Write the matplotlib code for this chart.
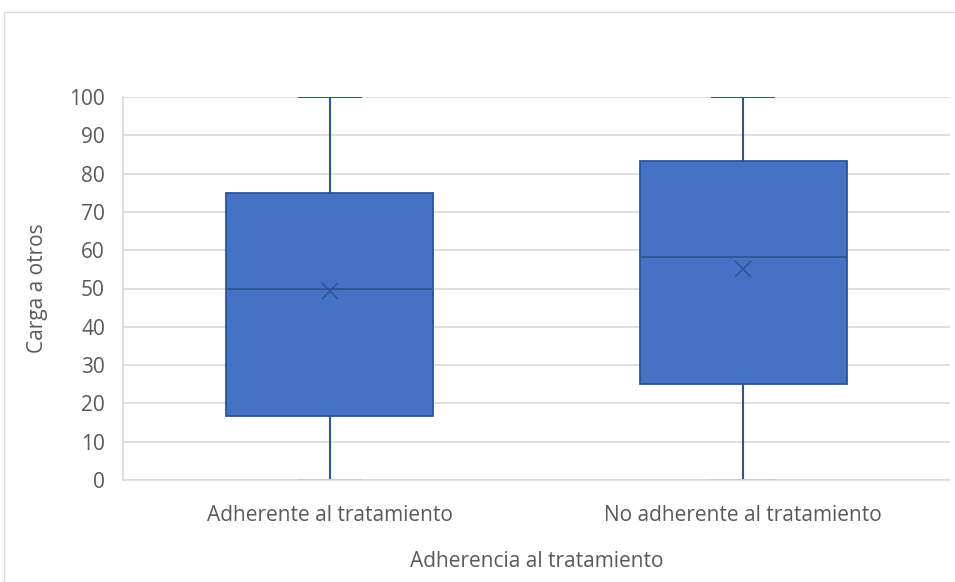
import matplotlib
matplotlib.use("Agg")
import matplotlib.pyplot as plt
from matplotlib.patches import Rectangle

# Summary statistics per group
categories = ["Adherente al tratamiento", "No adherente al tratamiento"]
whisker_low = [0, 0]
q1 = [16.67, 25.0]
median = [50.0, 58.33]
q3 = [75.0, 83.33]
whisker_high = [100, 100]
mean = [49.4, 55.2]
y_ticks = [0, 10, 20, 30, 40, 50, 60, 70, 80, 90, 100]

plt.rcParams["font.family"] = ["Open Sans", "DejaVu Sans"]
text_color = "#595959"
fill = "#4472C4"
edge = "#2F5597"
grid = "#D9D9D9"
fs = 15

W, H = 955, 582
fig = plt.figure(figsize=(W / 100, H / 100), dpi=100)
fig.patches.append(Rectangle((4 / W, -0.01), 1.0, 1 - 12 / H + 0.01,
                             transform=fig.transFigure, fill=False,
                             edgecolor=grid, linewidth=1.0))

ax_left, ax_right, ax_top, ax_bottom = 123, 950, 97, 480
ax = fig.add_axes([ax_left / W, 1 - ax_bottom / H, (ax_right - ax_left) / W,
                   (ax_bottom - ax_top) / H])
ax_h = ax_bottom - ax_top
ax_w = ax_right - ax_left

stats = []
for i, name in enumerate(categories):
    stats.append(dict(label=name, whislo=whisker_low[i], q1=q1[i], med=median[i],
                      q3=q3[i], whishi=whisker_high[i], mean=mean[i], fliers=[]))

positions = list(range(len(categories)))
parts = ax.bxp(stats, positions=positions, widths=0.5, showmeans=True, patch_artist=True,
               capwidths=0.15,
               boxprops=dict(facecolor=fill, edgecolor=edge, linewidth=1.3),
               medianprops=dict(color=edge, linewidth=1.3),
               whiskerprops=dict(color=edge, linewidth=1.5),
               capprops=dict(color=edge, linewidth=1.5),
               meanprops=dict(marker="x", markeredgecolor=edge, markersize=12,
                              markeredgewidth=1.2),
               zorder=3)

# the lower caps rest on the category axis and read as a faded line
for cap in parts["caps"][0::2]:
    cap.set_color("#C3CCDB")
    cap.set_zorder(5)

ax.set_xlim(-0.5, len(categories) - 0.5)
ax.set_ylim(0, 100)
ax.set_yticks(y_ticks)
ax.set_xticks(positions)
ax.set_xticklabels(categories)
ax.yaxis.grid(True, color=grid, linewidth=1.2, zorder=0)
ax.set_axisbelow(True)
for side in ["top", "right"]:
    ax.spines[side].set_visible(False)
for side in ["bottom", "left"]:
    ax.spines[side].set_color(grid)
    ax.spines[side].set_linewidth(1.2)
ax.spines["bottom"].set_zorder(4)
ax.tick_params(axis="both", length=0, labelsize=fs, colors=text_color)
# category labels: baseline about 41 px under the axis
ax.tick_params(axis="x", pad=41 * 72 / 100)
for lbl in ax.get_xticklabels():
    lbl.set_va("baseline")
ax.tick_params(axis="y", pad=13)

ax.set_ylabel("Carga a otros", fontsize=fs, color=text_color, va="center")
ax.yaxis.set_label_coords((37 - ax_left) / ax_w, 0.5)
ax.set_xlabel("Adherencia al tratamiento", fontsize=fs, color=text_color, va="baseline")
ax.xaxis.set_label_coords(0.5, (ax_bottom - 567) / ax_h)

fig.savefig("out.png", dpi=100)
